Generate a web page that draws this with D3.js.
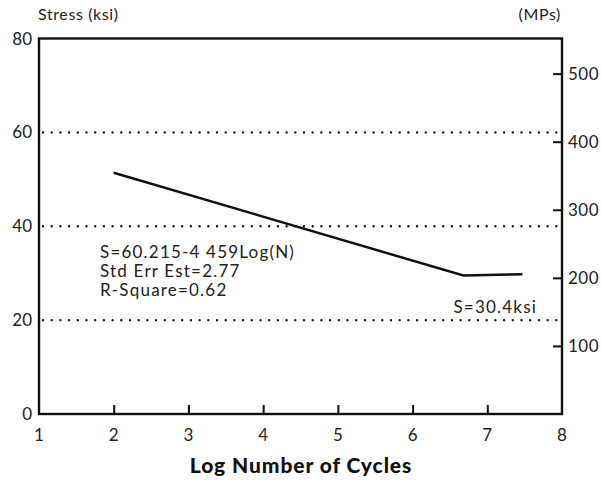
<!DOCTYPE html>
<html>
<head>
<meta charset="utf-8">
<script src="https://cdn.jsdelivr.net/npm/d3@7"></script>
<style>
  body { margin: 0; background: #fff; }
  text { font-family: Lato, "Open Sans", sans-serif; fill: #222; }
</style>
</head>
<body>
<svg id="chart" width="602" height="480"></svg>
<script>
// data
var logCycles = [2, 6.68, 7.47];
var stressKsi = [51.4, 29.5, 29.8];
var xTicks = [1, 2, 3, 4, 5, 6, 7, 8];
var ksiTicks = [0, 20, 40, 60, 80];
var gridKsi = [20, 40, 60];
var mpaTicks = [100, 200, 300, 400, 500];
var fitLines = ['S=60.215-4 459Log(N)', 'Std Err Est=2.77', 'R-Square=0.62'];
var limitLabel = 'S=30.4ksi';

var KSI_TO_MPA = 6.895;

function drawChart(){
    var svg = d3.select('#chart');
    var plotLeft = 39, plotRight = 562, plotTop = 38.5, plotBottom = 414;

    var xScale = d3.scaleLinear().domain([1, 8]).range([plotLeft, plotRight]);
    var yScale = d3.scaleLinear().domain([0, 80]).range([plotBottom, plotTop]);
    var mpaScale = d3.scaleLinear().domain([0, 80 * KSI_TO_MPA]).range([plotBottom, plotTop]);

    // dotted grid
    svg.append('g').selectAll('line')
        .data(gridKsi)
      .enter().append('line')
        .attr('x1', plotLeft + 4)
        .attr('x2', plotRight)
        .attr('y1', function(d){ return yScale(d); })
        .attr('y2', function(d){ return yScale(d); })
        .attr('stroke', '#111')
        .attr('stroke-width', 2.4)
        .attr('stroke-linecap', 'round')
        .attr('stroke-dasharray', '0,8.7');

    // bottom axis: ticks pointing inward
    var xAxis = d3.axisBottom(xScale)
        .tickValues(xTicks.slice(1, -1))
        .tickSizeInner(-9)
        .tickSizeOuter(0)
        .tickFormat('');
    svg.append('g')
        .attr('transform', 'translate(0,' + plotBottom + ')')
        .call(xAxis)
        .call(function(g){
            g.select('.domain').remove();
            g.selectAll('line').attr('stroke', '#111').attr('stroke-width', 2);
        });

    svg.append('g').selectAll('text')
        .data(xTicks)
      .enter().append('text')
        .attr('x', function(d){ return xScale(d); })
        .attr('y', plotBottom + 27)
        .attr('text-anchor', 'middle')
        .style('font-size', '17px')
        .text(function(d){ return d; });

    // right axis in MPa
    var mpaAxis = d3.axisRight(mpaScale)
        .tickValues(mpaTicks)
        .tickSizeInner(-9)
        .tickSizeOuter(0)
        .tickFormat('');
    svg.append('g')
        .attr('transform', 'translate(' + plotRight + ',0)')
        .call(mpaAxis)
        .call(function(g){
            g.select('.domain').remove();
            g.selectAll('line').attr('stroke', '#111').attr('stroke-width', 2);
        });

    svg.append('g').selectAll('text')
        .data(mpaTicks)
      .enter().append('text')
        .attr('x', plotRight + 6)
        .attr('y', function(d){ return mpaScale(d); })
        .attr('dy', '0.36em')
        .style('font-size', '17px')
        .style('letter-spacing', '0.5px')
        .text(function(d){ return d; });

    // left labels
    svg.append('g').selectAll('text')
        .data(ksiTicks)
      .enter().append('text')
        .attr('x', plotLeft - 7)
        .attr('y', function(d){ return yScale(d); })
        .attr('dy', '0.36em')
        .attr('text-anchor', 'end')
        .style('font-size', '17px')
        .text(function(d){ return d; });

    // frame
    svg.append('rect')
        .attr('x', plotLeft)
        .attr('y', plotTop)
        .attr('width', plotRight - plotLeft)
        .attr('height', plotBottom - plotTop)
        .attr('fill', 'none')
        .attr('stroke', '#111')
        .attr('stroke-width', 2.4);

    // S-N line
    var line = d3.line()
        .x(function(d, i){ return xScale(logCycles[i]); })
        .y(function(d){ return yScale(d); });
    svg.append('path')
        .datum(stressKsi)
        .attr('d', line)
        .attr('fill', 'none')
        .attr('stroke', '#111')
        .attr('stroke-width', 2.5);

    // annotations
    svg.append('g').selectAll('text')
        .data(fitLines)
      .enter().append('text')
        .attr('x', 100)
        .attr('y', function(d, i){ return 258 + i * 19; })
        .style('font-size', '17px')
        .style('letter-spacing', '1.2px')
        .text(function(d){ return d; });

    svg.append('text')
        .attr('x', 537)
        .attr('y', 313)
        .attr('text-anchor', 'end')
        .style('font-size', '17px')
        .style('letter-spacing', '1.2px')
        .text(limitLabel);

    // titles
    svg.append('text')
        .attr('x', 38)
        .attr('y', 20)
        .style('font-size', '16px')
        .style('letter-spacing', '0.6px')
        .text('Stress (ksi)');

    svg.append('text')
        .attr('x', 561)
        .attr('y', 20)
        .attr('text-anchor', 'end')
        .style('font-size', '16px')
        .style('letter-spacing', '0.6px')
        .text('(MPs)');

    svg.append('text')
        .attr('x', 301)
        .attr('y', 473)
        .attr('text-anchor', 'middle')
        .style('font-size', '21px')
        .style('font-weight', '900')
        .style('letter-spacing', '0.9px')
        .style('fill', '#111')
        .text('Log Number of Cycles');
}

drawChart();
</script>
</body>
</html>
